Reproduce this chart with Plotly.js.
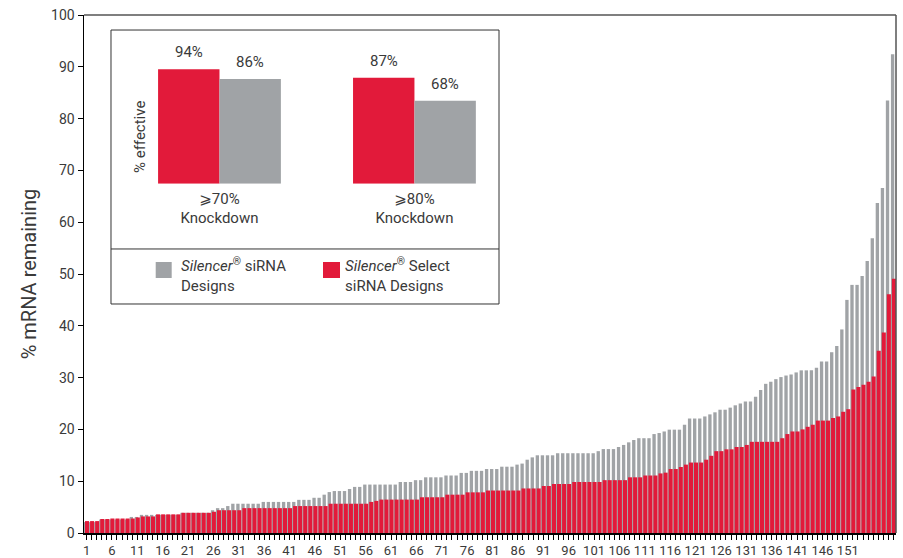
<!DOCTYPE html>
<html>
<head>
<meta charset="utf-8">
<script src="https://cdn.plot.ly/plotly-3.0.1.min.js"></script>
<style>html,body{margin:0;padding:0;background:#fff;}#chart{width:903px;height:558px;}</style>
</head>
<body>
<div id="chart"></div>
<script>
// Main chart: % mRNA remaining per siRNA (each series sorted ascending)
const silencerRemaining = [
  2.1,2.1,2.1,2.6,2.6,2.6,2.6,2.6,2.6,3.1,
  3.1,3.5,3.5,3.5,3.5,3.5,3.5,3.5,3.5,3.9,
  3.9,3.9,3.9,3.9,3.9,4.4,4.8,4.8,5.2,5.65,
  5.65,5.65,5.65,5.65,5.65,6.0,6.0,6.0,6.0,6.0,
  6.0,6.0,6.4,6.4,6.4,6.8,6.8,7.4,7.9,8.1,
  8.1,8.1,8.5,8.9,8.9,9.35,9.35,9.35,9.35,9.35,
  9.35,9.35,9.85,9.85,9.85,10.2,10.2,10.75,10.75,10.75,
  10.75,11.1,11.1,11.1,11.6,11.6,12.0,12.0,12.0,12.35,
  12.35,12.35,12.8,12.8,12.8,13.2,13.4,14.15,14.6,15.0,
  15.0,15.0,15.0,15.4,15.4,15.4,15.4,15.4,15.4,15.4,
  15.4,15.8,16.2,16.2,16.2,16.6,17.0,17.5,17.95,18.3,
  18.3,18.3,19.1,19.3,19.6,19.95,19.95,19.95,20.9,22.1,
  22.1,22.1,22.5,22.9,23.3,23.8,23.8,24.2,24.65,25.0,
  25.4,25.4,26.3,27.6,28.8,29.2,29.7,30.1,30.4,30.6,
  31.0,31.4,31.4,31.4,31.9,33.1,33.1,34.9,36.1,39.3,
  45.0,47.9,47.9,49.6,52.5,56.9,63.7,66.6,83.5,92.4
];
const selectRemaining = [
  2.3,2.3,2.3,2.7,2.7,2.8,2.8,2.8,2.8,2.8,
  3.0,3.2,3.2,3.2,3.6,3.6,3.6,3.6,3.6,3.9,
  3.9,3.9,3.9,3.9,3.9,4.1,4.4,4.4,4.4,4.4,
  4.4,4.8,4.8,4.8,4.8,4.8,4.8,4.8,4.8,4.8,
  4.8,5.2,5.2,5.2,5.2,5.2,5.2,5.2,5.65,5.65,
  5.65,5.65,5.65,5.65,5.65,5.65,6.0,6.2,6.45,6.45,
  6.45,6.45,6.45,6.45,6.45,6.45,6.9,6.9,6.9,6.9,
  6.9,7.4,7.4,7.4,7.4,7.85,7.85,7.85,7.85,8.2,
  8.2,8.2,8.2,8.2,8.2,8.2,8.6,8.6,8.6,8.6,
  9.07,9.07,9.46,9.46,9.46,9.46,9.85,9.85,9.85,9.85,
  9.85,9.85,10.2,10.2,10.2,10.2,10.2,10.75,10.75,10.75,
  11.1,11.1,11.1,11.5,11.65,12.35,12.35,12.74,13.2,13.6,
  13.6,13.6,14.15,14.9,15.8,15.8,16.15,16.15,16.6,16.6,
  17.0,17.6,17.6,17.6,17.6,17.6,17.6,18.3,19.1,19.6,
  19.6,20.0,20.5,20.9,21.7,21.7,21.7,22.2,22.5,23.4,
  23.9,27.7,28.2,28.6,29.2,30.2,35.2,38.7,46.1,49.1
];
const xTickVals = [1,6,11,16,21,26,31,36,41,46,51,56,61,66,71,76,81,86,91,96,101,106,111,116,121,126,131,136,141,146,151];
const xTickText = ["1","6","11","16","21","26","31","36","41","46","51","56","61","66","71","76","81","86","91","96","101","106","111","116","121","126","131","136","141","146","151"];
const yTickVals = [0,10,20,30,40,50,60,70,80,90,100];

// Inset: % effective
const insetCategories = ["⩾70%<br>Knockdown", "⩾80%<br>Knockdown"];
const selectEffective = [94, 87];
const silencerEffective = [86, 68];

const RED = '#E21A3A';
const GRAY = '#A0A3A6';
const TXT = '#3a3a3a';
const FONT = 'Roboto, "DejaVu Sans", sans-serif';

const barIndex = selectRemaining.map((_, i) => i + 1);

const traces = [
  {type:'bar', x: barIndex, y: silencerRemaining, name:'Silencer® siRNA Designs',
   marker:{color:GRAY, line:{width:0}}, width:0.66, offset:-0.5, showlegend:false, hoverinfo:'skip'},
  {type:'bar', x: barIndex, y: selectRemaining, name:'Silencer® Select siRNA Designs',
   marker:{color:RED, line:{width:0}}, width:0.8, offset:-0.3, showlegend:false, hoverinfo:'skip'},
  {type:'bar', x: insetCategories, y: selectEffective, xaxis:'x2', yaxis:'y2',
   marker:{color:RED, line:{width:0}}, width:0.315, offset:-0.315, showlegend:false, hoverinfo:'skip'},
  {type:'bar', x: insetCategories, y: silencerEffective, xaxis:'x2', yaxis:'y2',
   marker:{color:GRAY, line:{width:0}}, width:0.315, offset:0, showlegend:false, hoverinfo:'skip'}
];

const annotations = [];
selectEffective.forEach((v, i) => annotations.push({
  xref:'x2', yref:'y2', x: i - 0.1575, y: v, text: v + '%', showarrow:false,
  yanchor:'bottom', yshift:6, font:{size:15, color:TXT, family:FONT}
}));
silencerEffective.forEach((v, i) => annotations.push({
  xref:'x2', yref:'y2', x: i + 0.1575, y: v, text: v + '%', showarrow:false,
  yanchor:'bottom', yshift:6, font:{size:15, color:TXT, family:FONT}
}));
annotations.push({xref:'paper', yref:'paper', x:0.069, y:0.7645, text:'% effective', textangle:-90,
  showarrow:false, xanchor:'center', yanchor:'middle', font:{size:15, color:TXT, family:FONT}});
annotations.push({xref:'paper', yref:'paper', x:0.117, y:0.499, text:'<i>Silencer</i><sup>®</sup> siRNA<br>Designs',
  showarrow:false, xanchor:'left', yanchor:'middle', align:'left', font:{size:15, color:TXT, family:FONT}});
annotations.push({xref:'paper', yref:'paper', x:0.319, y:0.499, text:'<i>Silencer</i><sup>®</sup> Select<br>siRNA Designs',
  showarrow:false, xanchor:'left', yanchor:'middle', align:'left', font:{size:15, color:TXT, family:FONT}});

const shapes = [
  // top and right frame
  {type:'line', xref:'paper', yref:'paper', x0:0, x1:1, y0:1, y1:1, line:{color:'#555', width:1.5}},
  {type:'line', xref:'paper', yref:'paper', x0:1, x1:1, y0:0, y1:1, line:{color:'#555', width:1.5}},
  // inset box and divider
  {type:'rect', xref:'paper', yref:'paper', x0:0.03325, x1:0.5111, y0:0.4421, y1:0.971,
   line:{color:'#333', width:1}, fillcolor:'rgba(0,0,0,0)'},
  {type:'line', xref:'paper', yref:'paper', x0:0.03325, x1:0.5111, y0:0.5483, y1:0.5483,
   line:{color:'#333', width:1}},
  // legend squares
  {type:'rect', xref:'paper', yref:'paper', x0:0.0883, x1:0.108, y0:0.4923, y1:0.5232,
   line:{width:0}, fillcolor:GRAY},
  {type:'rect', xref:'paper', yref:'paper', x0:0.2943, x1:0.3153, y0:0.4923, y1:0.5232,
   line:{width:0}, fillcolor:RED}
];

const layout = {
  width:903, height:558,
  margin:{l:84, r:7, t:15, b:25, pad:0},
  paper_bgcolor:'#fff', plot_bgcolor:'rgba(0,0,0,0)',
  barmode:'overlay',
  font:{family:FONT, color:TXT},
  xaxis:{
    range:[0.5, 160.5], tickmode:'array', tickvals:xTickVals, ticktext:xTickText,
    tickangle:0, ticklabelstandoff:0,
    ticks:'outside', ticklen:5, tickwidth:1, tickcolor:'#000',
    minor:{tickmode:'linear', tick0:1, dtick:1, ticks:'outside', ticklen:5, tickwidth:1, tickcolor:'#000', showgrid:false},
    showline:true, linecolor:'#000', linewidth:1.5, showgrid:false, zeroline:false,
    tickfont:{size:13, color:TXT, family:FONT}, fixedrange:true
  },
  yaxis:{
    range:[0, 100], tickmode:'array', tickvals:yTickVals,
    ticks:'outside', ticklen:5, tickwidth:1, tickcolor:'#000',
    showline:true, linecolor:'#000', linewidth:1.5, showgrid:false, zeroline:false,
    tickfont:{size:14, color:TXT, family:FONT},
    title:{text:'% mRNA remaining', font:{size:20, color:TXT, family:FONT}, standoff:9}
  },
  xaxis2:{
    domain:[0.0468, 0.527], anchor:'y2', type:'category',
    showline:false, ticks:'', showgrid:false, zeroline:false, ticklabelstandoff:4,
    tickfont:{size:15, color:TXT, family:FONT}
  },
  yaxis2:{
    domain:[0.6743, 0.9095], anchor:'x2', range:[0, 100],
    showline:false, showticklabels:false, ticks:'', showgrid:false, zeroline:false
  },
  shapes: shapes,
  annotations: annotations
};

Plotly.newPlot('chart', traces, layout, {displayModeBar:false, staticPlot:true});
</script>
</body>
</html>
